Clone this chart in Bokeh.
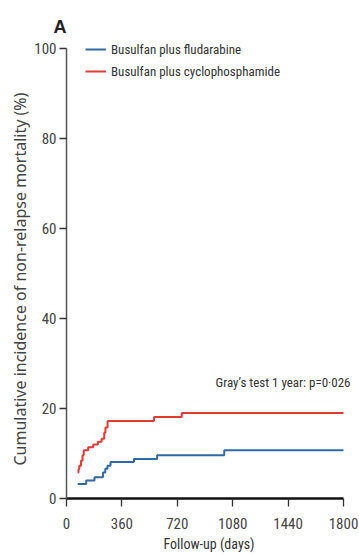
from bokeh.plotting import figure
from bokeh.models import Range1d, FixedTicker, Legend, LegendItem, Label, Title
from bokeh.embed import file_html
from bokeh.resources import INLINE

# Data
bu_flu_days = [73, 128, 182, 237, 252, 266, 286, 438, 589, 1025, 1800]
bu_flu_pct = [3.2, 4.0, 4.7, 5.8, 6.6, 7.3, 8.1, 8.8, 9.6, 10.7, 10.7]

bu_cy_days = [73, 78, 83, 94, 104, 112, 141, 174, 204, 228, 245, 253, 267, 569, 749, 1800]
bu_cy_pct = [5.8, 6.5, 7.3, 8.4, 9.6, 10.7, 11.4, 12.0, 12.6, 13.3, 14.6, 15.8, 17.2, 18.1, 19.0, 19.0]

x_ticks = [0, 360, 720, 1080, 1440, 1800]
y_ticks = [0, 20, 40, 60, 80, 100]

series_names = ["Busulfan plus fludarabine", "Busulfan plus cyclophosphamide"]
colors = ["#2f6aa6", "#e23b36"]
annotation_text = "Gray\u2019s test 1 year: p=0\u00b7026"
y_title = "Cumulative incidence of non-relapse mortality (%)"
x_title = "Follow-up (days)"

FONT_C = "Roboto Condensed"

p = figure(width=358, height=554, output_backend="svg", toolbar_location=None,
           x_range=Range1d(0, 1852), y_range=Range1d(0, 102.44),
           min_border_left=66, min_border_right=7, min_border_top=37, min_border_bottom=56,
           title="A")
p.outline_line_color = None
p.grid.grid_line_color = None
p.background_fill_color = "white"

p.title.align = "left"
p.title.text_font = "Liberation Sans"
p.title.text_font_style = "bold"
p.title.text_font_size = "18px"
p.title.text_line_height = 1.0
p.title.text_color = "#222222"
p.title.offset = -13
p.title.standoff = 2

# y-axis title as a side title, so it can be placed like the reference
p.add_layout(Title(text=y_title, align="left", offset=33, text_font="Noto Sans",
                   text_font_size="16px", text_font_style="normal", text_color="#444444",
                   text_line_height=1.0, standoff=2), "left")

r1 = p.step(bu_flu_days, bu_flu_pct, mode="after", line_color=colors[0], line_width=2)
r2 = p.step(bu_cy_days, bu_cy_pct, mode="after", line_color=colors[1], line_width=2)

legend = Legend(items=[LegendItem(label=series_names[0], renderers=[r1]),
                       LegendItem(label=series_names[1], renderers=[r2])],
                location=(19, 417), border_line_color=None, background_fill_alpha=0,
                padding=0, margin=0, spacing=2, label_height=20, glyph_width=21,
                glyph_height=20, label_standoff=5,
                label_text_font=FONT_C, label_text_font_size="13px", label_text_color="#333333")
p.add_layout(legend, "center")

p.add_layout(Label(x=1800, y=25.8, x_offset=7, text=annotation_text, text_align="right",
                   text_baseline="middle", text_font=FONT_C, text_font_size="13px",
                   text_color="#333333"))

# axes
p.xaxis.bounds = (0, 1800)
p.yaxis.bounds = (0, 100)
p.xaxis.ticker = FixedTicker(ticks=x_ticks)
p.yaxis.ticker = FixedTicker(ticks=y_ticks)
p.xaxis.minor_tick_line_color = None
p.yaxis.minor_tick_line_color = None

p.xaxis.axis_line_width = 2.5
p.xaxis.axis_line_color = "#111111"
p.xaxis.major_tick_line_color = "#333333"
p.xaxis.major_tick_line_width = 1.3
p.xaxis.major_tick_in = 0
p.xaxis.major_tick_out = 8
p.xaxis.major_label_standoff = 11
p.xaxis.major_label_text_font = FONT_C
p.xaxis.major_label_text_font_size = "15px"
p.xaxis.major_label_text_line_height = 1.0
p.xaxis.major_label_text_color = "#444444"
p.xaxis.axis_label = x_title
p.xaxis.axis_label_text_font = FONT_C
p.xaxis.axis_label_text_font_size = "14px"
p.xaxis.axis_label_text_line_height = 1.0
p.xaxis.axis_label_text_font_style = "normal"
p.xaxis.axis_label_text_color = "#333333"
p.xaxis.axis_label_standoff = 4

p.yaxis.axis_line_width = 1.5
p.yaxis.axis_line_color = "#555555"
p.yaxis.major_tick_line_color = "#333333"
p.yaxis.major_tick_line_width = 1.3
p.yaxis.major_tick_in = 0
p.yaxis.major_tick_out = 7
p.yaxis.major_label_standoff = 3
p.yaxis.major_label_text_font = FONT_C
p.yaxis.major_label_text_font_size = "15px"
p.yaxis.major_label_text_line_height = 1.0
p.yaxis.major_label_text_color = "#444444"

open("out.html", "w").write(file_html(p, INLINE))
